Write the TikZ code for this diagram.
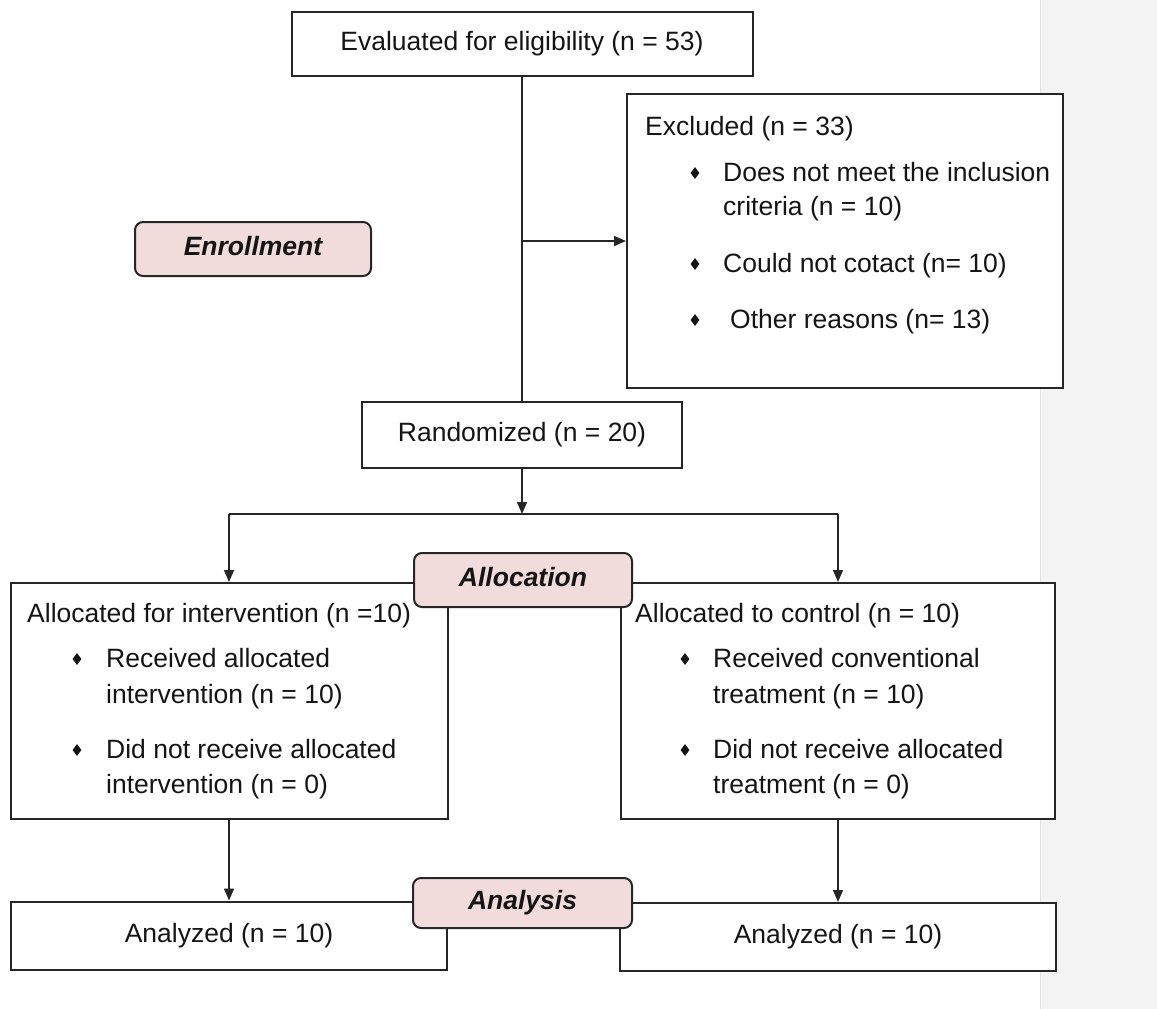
\documentclass[tikz,border=0pt]{standalone}
\usepackage{fontspec}
\setmainfont{Liberation Sans}
\usetikzlibrary{arrows.meta,shapes.geometric}
\definecolor{pillfill}{HTML}{F2DCDB}
\definecolor{panel}{HTML}{F3F3F3}
\definecolor{panelline}{HTML}{E2E2E2}
\definecolor{edge}{HTML}{262626}
\definecolor{ink}{HTML}{151515}
\newcommand\fs{\fontsize{26.5}{32}\selectfont}
\begin{document}
\begin{tikzpicture}[x=1pt,y=-1pt,
  box/.style={draw=edge, line width=2pt, fill=white, inner sep=0pt, font=\fs, text=ink,
    text height=19pt, text depth=5.6pt},
  pillbox/.style={draw=edge, line width=2pt, fill=pillfill, rounded corners=8pt, inner sep=0pt,
    font=\fs\bfseries\itshape, text=ink, text height=19pt, text depth=5.6pt},
  txt/.style={anchor=base west, inner sep=0pt, font=\fs, text=ink},
  bul/.style={diamond, fill=ink, inner sep=0pt, minimum width=9pt, minimum height=12pt},
  conn/.style={draw=edge, line width=1.6pt},
  arrowline/.style={conn, -{Triangle[width=10pt,length=12pt]}}]
\useasboundingbox (0,0) rectangle (1157,1009);
% side panel
\fill[panel] (1040,0) rectangle (1157,1009);
\draw[panelline, line width=1pt] (1040,0) -- (1040,1009);

% boxes
\node[box, minimum width=461pt, minimum height=64pt] (elig) at (522,44) {Evaluated for eligibility (n = 53)};
\node[box, minimum width=436pt, minimum height=294pt] (excl) at (845,241) {};
\node[box, minimum width=320pt, minimum height=66pt] (rand) at (522,435) {Randomized (n = 20)};
\node[box, minimum width=437pt, minimum height=236pt] (allocL) at (229,701) {};
\node[box, minimum width=434pt, minimum height=236pt] (allocR) at (838,701) {};
\node[box, minimum width=436pt, minimum height=68pt] (anL) at (229,935.5) {Analyzed (n = 10)};
\node[box, minimum width=436pt, minimum height=68pt] (anR) at (838,937) {Analyzed (n = 10)};

% connectors
\coordinate (j1) at (elig.south |- excl.west);
\coordinate (split) at (522,514);
\coordinate (sL) at (allocL.north |- split);
\coordinate (sR) at (allocR.north |- split);
\draw[conn] (elig.south) -- (rand.north);
\draw[arrowline] (j1) -- (excl.west);
\draw[arrowline] (rand.south) -- (split);
\draw[conn] (sL) -- (sR);
\draw[arrowline] (sL) -- (allocL.north);
\draw[arrowline] (sR) -- (allocR.north);
\draw[arrowline] (allocL.south) -- (anL.north);
\draw[arrowline] (allocR.south) -- (anR.north);

% excluded text
\node[txt] (ex0) at (645,135) {Excluded (n = 33)};
\node[bul] (exb1) at (695,173) {};
\node[txt] (ex1a) at (723,181) {Does not meet the inclusion};
\node[txt] (ex1b) at (723,215) {criteria (n = 10)};
\node[bul] (exb2) at (695,264) {};
\node[txt] (ex2) at (723,272) {Could not cotact (n= 10)};
\node[bul] (exb3) at (695,320) {};
\node[txt] (ex3) at (730,328) {Other reasons (n= 13)};

% left allocation text
\node[txt] (l0) at (27,622) {Allocated for intervention (n =10)};
\node[bul] (lb1) at (77,659) {};
\node[txt] (l1a) at (106,667) {Received allocated};
\node[txt] (l1b) at (106,703) {intervention (n = 10)};
\node[bul] (lb2) at (77,750) {};
\node[txt] (l2a) at (106,758) {Did not receive allocated};
\node[txt] (l2b) at (106,793) {intervention (n = 0)};

% right allocation text
\node[txt] (r0) at (635,622) {Allocated to control (n = 10)};
\node[bul] (rb1) at (685,659) {};
\node[txt] (r1a) at (713,667) {Received conventional};
\node[txt] (r1b) at (713,703) {treatment (n = 10)};
\node[bul] (rb2) at (685,750) {};
\node[txt] (r2a) at (713,758) {Did not receive allocated};
\node[txt] (r2b) at (713,793) {treatment (n = 0)};

% stage labels
\node[pillbox, minimum width=236pt, minimum height=54pt] (enr) at (253,249) {Enrollment};
\node[pillbox, minimum width=218pt, minimum height=54pt] (allo) at (523,580) {Allocation};
\node[pillbox, minimum width=219pt, minimum height=50pt] (ana) at (522.5,903) {Analysis};
\end{tikzpicture}
\end{document}
